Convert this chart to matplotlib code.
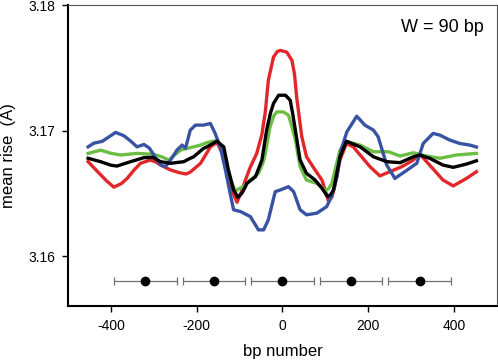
import matplotlib
matplotlib.use("Agg")
import matplotlib.pyplot as plt

plt.rcParams['font.family'] = ['Liberation Sans', 'DejaVu Sans']

blue_x = [-453, -440, -420, -389, -370, -355, -339, -323, -310, -295, -284, -273, -261, -246, -234, -226,
          -215, -203, -184, -168, -157, -145, -133, -122, -114, -98, -75, -56, -44, -33, -17, -5, 14, 26,
          41, 56, 80, 103, 115, 127, 137, 150, 173, 192, 212, 223, 243, 262, 285, 313, 328, 351, 367, 390,
          413, 437, 452]
blue_y = [3.16871, 3.16900, 3.16915, 3.16986, 3.16960, 3.16920, 3.16871, 3.16890, 3.16860, 3.16780,
          3.16726, 3.16713, 3.16766, 3.16845, 3.16885, 3.16860, 3.17004, 3.17044, 3.17044, 3.17057,
          3.16978, 3.16871, 3.16687, 3.16500, 3.16370, 3.16356, 3.16316, 3.16210, 3.16210, 3.16290,
          3.16514, 3.16528, 3.16554, 3.16514, 3.16370, 3.16330, 3.16343, 3.16395, 3.16480, 3.16633,
          3.16850, 3.16990, 3.17115, 3.17044, 3.17004, 3.16951, 3.16726, 3.16620, 3.16673, 3.16740,
          3.16898, 3.16978, 3.16964, 3.16925, 3.16898, 3.16885, 3.16870]

red_x = [-453, -430, -410, -393, -375, -362, -345, -331, -308, -295, -284, -261, -240, -225, -215, -191,
         -168, -153, -140, -133, -122, -106, -95, -85, -75, -60, -48, -40, -33, -21, -12, -5, 10, 22, 28,
         33, 45, 56, 76, 92, 100, 107, 115, 122, 134, 149, 165, 181, 204, 227, 250, 278, 305, 320, 343,
         374, 398, 429, 452]
red_y = [3.16753, 3.16670, 3.16600, 3.16550, 3.16580, 3.16620, 3.16690, 3.16740, 3.16766, 3.16750,
         3.16726, 3.16687, 3.16665, 3.16655, 3.16670, 3.16740, 3.16871, 3.16906, 3.16820, 3.16713,
         3.16554, 3.16430, 3.16520, 3.16620, 3.16710, 3.16819, 3.16970, 3.17150, 3.17400, 3.17586,
         3.17630, 3.17639, 3.17625, 3.17560, 3.17450, 3.17268, 3.16951, 3.16792, 3.16687, 3.16607,
         3.16520, 3.16440, 3.16470, 3.16560, 3.16766, 3.16898, 3.16871, 3.16806, 3.16713, 3.16640,
         3.16673, 3.16713, 3.16766, 3.16814, 3.16726, 3.16607, 3.16560, 3.16620, 3.16673]

green_x = [-453, -424, -400, -377, -339, -300, -280, -265, -238, -207, -191, -176, -160, -150, -140, -130,
           -120, -110, -100, -91, -75, -56, -45, -40, -29, -20, -13, 2, 14, 22, 30, 41, 56, 80, 92, 99,
           108, 115, 125, 134, 149, 181, 212, 247, 274, 305, 336, 367, 405, 452]
green_y = [3.16819, 3.16845, 3.16820, 3.16806, 3.16819, 3.16811, 3.16790, 3.16766, 3.16845, 3.16871,
           3.16885, 3.16905, 3.16917, 3.16910, 3.16840, 3.16713, 3.16600, 3.16520, 3.16540, 3.16554,
           3.16607, 3.16660, 3.16750, 3.16819, 3.17030, 3.17120, 3.17149, 3.17149, 3.17123, 3.17030,
           3.16925, 3.16713, 3.16607, 3.16580, 3.16550, 3.16520, 3.16540, 3.16580, 3.16720, 3.16845,
           3.16915, 3.16885, 3.16832, 3.16832, 3.16798, 3.16824, 3.16798, 3.16780, 3.16806, 3.16819]

black_x = [-453, -424, -400, -386, -354, -323, -302, -284, -261, -230, -215, -207, -184, -176, -153, -137,
           -126, -114, -104, -95, -87, -83, -63, -48, -37, -28, -21, -9, 7, 18, 24, 30, 41, 56, 76, 92,
           105, 112, 119, 134, 149, 181, 212, 243, 274, 305, 320, 343, 374, 398, 429, 452]
black_y = [3.16780, 3.16753, 3.16725, 3.16718, 3.16753, 3.16785, 3.16787, 3.16753, 3.16740, 3.16753,
           3.16780, 3.16792, 3.16859, 3.16871, 3.16917, 3.16871, 3.16687, 3.16528, 3.16470, 3.16500,
           3.16550, 3.16580, 3.16633, 3.16766, 3.17004, 3.17140, 3.17216, 3.17282, 3.17282, 3.17242,
           3.17130, 3.17004, 3.16766, 3.16660, 3.16607, 3.16541, 3.16475, 3.16490, 3.16528, 3.16792,
           3.16915, 3.16871, 3.16792, 3.16753, 3.16745, 3.16792, 3.16806, 3.16780, 3.16726, 3.16708,
           3.16734, 3.16760]

nuc_centers = [-320, -160, 0, 160, 320]
nuc_level = [3.158, 3.158, 3.158, 3.158, 3.158]
nuc_halfwidth = [73, 73, 73, 73, 73]

x_ticks = [-400, -200, 0, 200, 400]
y_ticks = [3.16, 3.17, 3.18]

fig = plt.figure(figsize=(4.98, 3.61), dpi=100)
ax = fig.add_axes([0.1365, 0.151, 0.8615, 0.835])

lw = 2.4
ax.plot(red_x, red_y, color='#e2272b', lw=lw, solid_joinstyle='round')
ax.plot(green_x, green_y, color='#6cbd45', lw=lw, solid_joinstyle='round')
ax.plot(blue_x, blue_y, color='#3953a4', lw=lw, solid_joinstyle='round')
ax.plot(black_x, black_y, color='black', lw=lw, solid_joinstyle='round')

ax.errorbar(nuc_centers, nuc_level, xerr=nuc_halfwidth, fmt='none', ecolor='#707070',
            elinewidth=0.9, capsize=3.1, capthick=0.9)
ax.plot(nuc_centers, nuc_level, 'o', color='black', markersize=6, zorder=5)

ax.set_xlim(-500, 500)
ax.set_ylim(3.156, 3.18)
ax.set_xticks(x_ticks)
ax.set_xticklabels([str(t) for t in x_ticks])
ax.set_yticks(y_ticks)
ax.set_yticklabels(['%.2f' % t for t in y_ticks])
ax.tick_params(direction='out', length=4, width=1, labelsize=10, pad=5)

for s in ['left', 'bottom']:
    ax.spines[s].set_linewidth(1.5)
    ax.spines[s].set_color('black')
for s in ['top', 'right']:
    ax.spines[s].set_linewidth(0.8)
    ax.spines[s].set_color('#555555')

ax.set_xlabel('bp number', fontsize=12, labelpad=8)
ax.set_ylabel('mean rise  (A)', fontsize=12, labelpad=9)
ax.text(0.97, 0.955, 'W = 90 bp', transform=ax.transAxes, ha='right', va='top', fontsize=13)

fig.savefig('out.png', dpi=100)
